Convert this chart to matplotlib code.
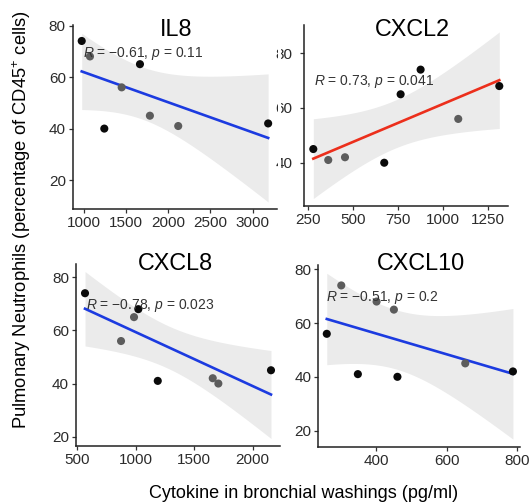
import matplotlib
matplotlib.use("Agg")
import matplotlib.pyplot as plt
import numpy as np
from matplotlib.patches import Rectangle

plt.rcParams['font.family'] = ['Liberation Sans', 'DejaVu Sans']
plt.rcParams['mathtext.fontset'] = 'custom'
plt.rcParams['mathtext.rm'] = 'Liberation Sans'
plt.rcParams['mathtext.it'] = 'Liberation Sans:italic'

# neutrophil % (same patients in every panel)
neutrophils = [74, 68, 65, 56, 45, 42, 41, 40]

# cytokine levels (pg/ml), same patient order
il8 = [973, 1071, 1664, 1447, 1782, 3185, 2118, 1241]
cxcl2 = [874, 1311, 763, 1083, 278, 454, 361, 672]
cxcl8 = [566, 1022, 985, 874, 2156, 1658, 1188, 1706]
cxcl10 = [302, 402, 451, 261, 653, 788, 349, 461]

titles = ["IL8", "CXCL2", "CXCL8", "CXCL10"]
stat_labels = [r"$R$ = −0.61, $p$ = 0.11", r"$R$ = 0.73, $p$ = 0.041",
               r"$R$ = −0.78, $p$ = 0.023", r"$R$ = −0.51, $p$ = 0.2"]
xticks = [[1000, 1500, 2000, 2500, 3000], [250, 500, 750, 1000, 1250],
          [500, 1000, 1500, 2000], [400, 600, 800]]
yticks = [[20, 40, 60, 80], [40, 60, 80], [20, 40, 60, 80], [20, 40, 60, 80]]

W, H = 532, 504
fig = plt.figure(figsize=(W / 100, H / 100), dpi=100)

def px_axes(left, top, right, bottom):
    return fig.add_axes([left / W, 1 - bottom / H, (right - left) / W, (bottom - top) / H])

BLK, GRY = "#0a0a0a", "#5c5c5c"
panels = [
    dict(x=il8, box=(72.7, 25, 277, 209), xlim=(866, 3290), ylim=(8.8, 80.2),
         line="#1c3be0", title_px=(176, 29), stat_px=(82.7, 53), ypad=2,
         cols=[BLK, GRY, BLK, GRY, GRY, BLK, GRY, BLK]),
    dict(x=cxcl2, box=(304.3, 25, 508.3, 206), xlim=(228, 1361), ylim=(24.2, 90.3),
         line="#ec2f1c", title_px=(412, 30), stat_px=(314.3, 82), ypad=5.5,
         cols=[BLK, BLK, BLK, GRY, BLK, GRY, GRY, BLK]),
    dict(x=cxcl8, box=(76, 264, 280, 445.7), xlim=(489, 2233), ylim=(16.6, 85),
         line="#1c3be0", title_px=(175, 264), stat_px=(86, 305), ypad=2,
         cols=[BLK, BLK, GRY, GRY, BLK, GRY, BLK, GRY]),
    dict(x=cxcl10, box=(318.3, 265, 520, 446.7), xlim=(237, 808), ylim=(14.0, 81.6),
         line="#1c3be0", title_px=(421, 264), stat_px=(326, 297), ypad=2,
         cols=[GRY, GRY, GRY, BLK, GRY, BLK, BLK, BLK]),
]

T975 = 2.447  # t quantile, df = 6

for i, p in enumerate(panels):
    ax = px_axes(*p["box"])
    x = np.array(p["x"], dtype=float)
    y = np.array(neutrophils, dtype=float)

    # linear fit with 95% confidence band
    b, a = np.polyfit(x, y, 1)
    xs = np.linspace(x.min(), x.max(), 100)
    fit = a + b * xs
    n = len(x)
    s = np.sqrt(np.sum((y - (a + b * x)) ** 2) / (n - 2))
    se = s * np.sqrt(1 / n + (xs - x.mean()) ** 2 / np.sum((x - x.mean()) ** 2))
    ax.fill_between(xs, fit - T975 * se, fit + T975 * se, color="#ebebeb", lw=0, zorder=1)
    ax.plot(xs, fit, color=p["line"], lw=1.9, zorder=2)
    ax.scatter(x, y, s=34, c=p["cols"], lw=0, zorder=3)

    ax.set_xlim(*p["xlim"])
    ax.set_ylim(*p["ylim"])
    ax.set_xticks(xticks[i])
    ax.set_yticks(yticks[i])
    for side in ["top", "right"]:
        ax.spines[side].set_visible(False)
    for side in ["left", "bottom"]:
        ax.spines[side].set_color("#222222")
        ax.spines[side].set_linewidth(1.1)
    ax.tick_params(length=3, width=0.9, color="#333333", labelsize=11,
                   labelcolor="#2b2b2b", pad=2)
    ax.tick_params(axis="y", pad=p["ypad"])
    ax.patch.set_alpha(0)

    tx, ty = p["title_px"]
    fig.text(tx / W, 1 - ty / H, titles[i], fontsize=16.8, ha="center", va="center")
    sx, sy = p["stat_px"]
    fig.text(sx / W, 1 - sy / H, stat_labels[i], fontsize=10, color="#333333",
             ha="left", va="center", zorder=5)

# left part of the CXCL2 y labels is hidden under the IL8 panel
fig.patches.append(Rectangle((277.8 / W, 1 - 200 / H), 3.4 / W, 170 / H,
                             transform=fig.transFigure, color="white", lw=0, zorder=10))

fig.text(22 / W, 1 - 220 / H, "Pulmonary Neutrophils (percentage of CD45$^{+}$ cells)",
         rotation=90, ha="center", va="center", fontsize=13.2)
fig.text(304 / W, 1 - 493 / H, "Cytokine in bronchial washings (pg/ml)",
         ha="center", va="center", fontsize=13)

fig.savefig("out.png", dpi=100)
